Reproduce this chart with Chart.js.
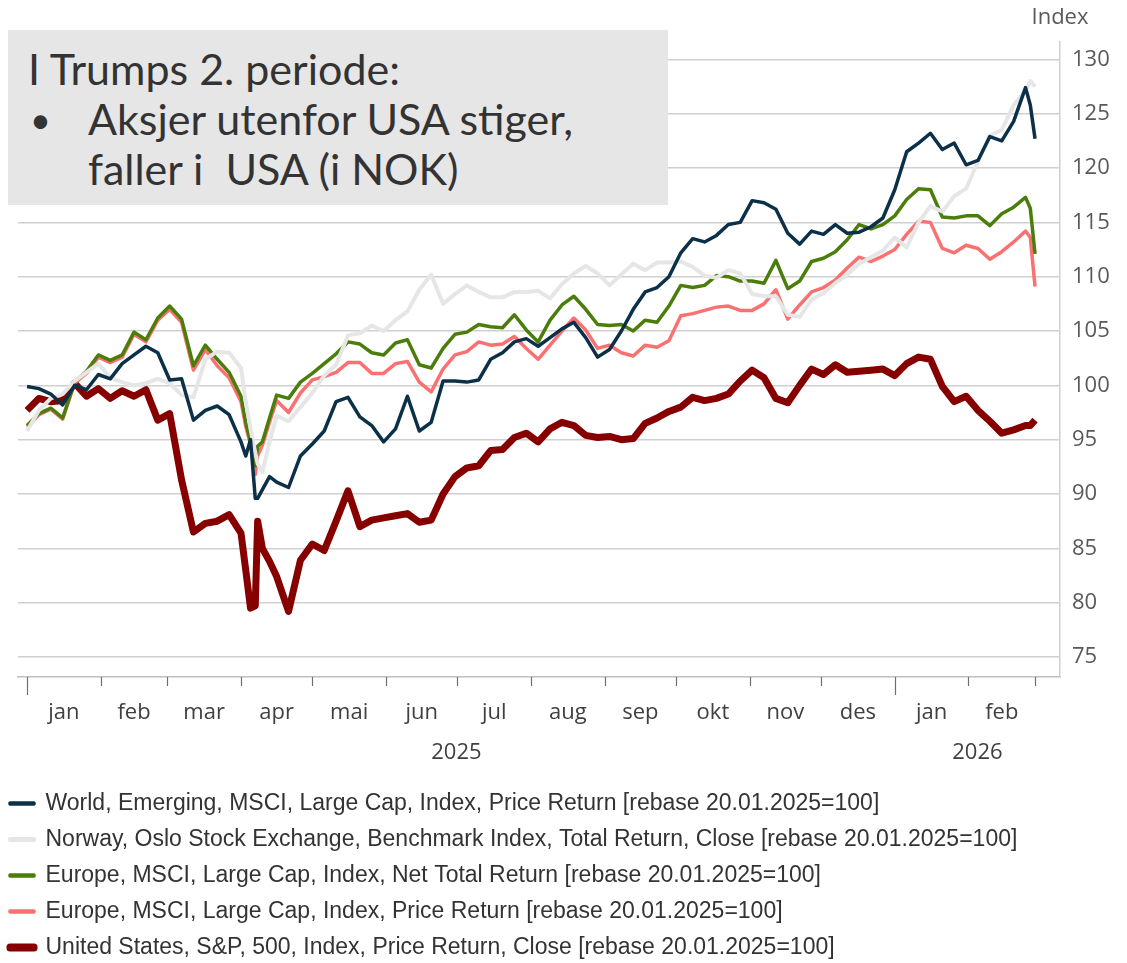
<!DOCTYPE html>
<html>
<head>
<meta charset="utf-8">
<script src="https://cdn.jsdelivr.net/npm/chart.js@4.4.1/dist/chart.umd.min.js"></script>
<style>
body{margin:0;background:#fff}
#wrap{position:relative;width:1127px;height:963px}
#box{position:absolute;left:8px;top:30px;width:660px;height:175px;background:#e6e6e6;font-family:Lato,'Open Sans',sans-serif;font-size:43px;color:#333;line-height:50px;padding-top:14px;box-sizing:border-box}
#box .l1{padding-left:20px}
#box .l2{padding-left:80px;position:relative}
#box .bul{position:absolute;left:22px;font-size:36px}
</style>
</head>
<body>
<div id="wrap">
<canvas id="myChart" width="1127" height="963"></canvas>
<div id="box">
<div class="l1">I Trumps 2. periode:</div>
<div class="l2"><span class="bul">•</span>Aksjer utenfor USA stiger,</div>
<div class="l2">faller i&nbsp; USA (i NOK)</div>
</div>
</div>
<script>
// days since 01.01.2025
const days=[0,5,10,15,20,25,30,35,40,45,50,55,60,65,70,
75,80,85,90,92,94,96,97,99,102,105,110,115,120,125,130,135,140,
145,150,155,160,165,170,175,180,185,190,195,200,205,210,215,
220,225,230,235,240,245,250,255,260,265,270,275,280,285,
290,295,300,305,310,315,320,325,330,335,340,345,350,355,
360,365,370,375,380,385,390,395,400,405,410,415,420,422,424]

const world=[99.9,99.7,99.2,98.2,100.0,99.6,101.0,100.6,102.0,102.8,103.6,103.0,100.5,100.6,96.8,
97.7,98.1,97.3,94.8,93.5,95.0,89.6,89.6,90.4,91.6,91.1,90.6,93.5,94.6,95.8,98.5,98.9,97.1,
96.3,94.8,96.0,99.0,95.8,96.6,100.4,100.4,100.3,100.5,102.4,103.0,104.0,104.3,103.6,
104.4,105.2,105.8,104.4,102.6,103.3,105.0,107.0,108.6,109.0,110.0,112.2,113.5,113.2,
113.8,114.8,115.0,117.0,116.8,116.2,114.0,113.0,114.2,113.9,114.8,114.0,114.1,114.6,
115.4,118.0,121.5,122.3,123.2,121.7,122.3,120.3,120.7,122.9,122.5,124.3,127.4,125.8,122.7]

const norway=[95.8,97.7,98.8,99.2,100.4,101.2,102.0,100.7,100.3,100.0,100.2,100.6,100.2,99.1,98.9,
102.4,103.1,103.0,101.6,98.5,96.0,93.8,92.8,92.0,94.8,97.2,96.7,98.0,99.3,100.9,101.9,104.6,104.8,
105.5,105.0,106.0,106.8,108.8,110.2,107.5,108.4,109.2,108.6,108.1,108.1,108.6,108.6,108.7,
108.0,109.3,110.3,111.0,110.3,109.2,110.2,111.2,110.6,111.3,111.3,111.4,110.9,110.1,
109.9,110.6,110.3,108.4,108.2,108.2,106.5,106.3,107.9,108.5,109.4,110.2,111.2,111.8,
112.4,113.6,112.7,115.0,116.5,116.0,117.4,118.1,120.6,123.0,123.5,125.8,127.1,128.0,127.5]

const europeNet=[96.3,97.4,97.9,97.0,100.3,101.3,102.8,102.3,102.8,104.9,104.2,106.2,107.3,106.1,101.8,
103.7,102.4,101.2,99.0,96.6,94.8,92.6,94.4,94.8,97.0,99.1,98.8,100.3,101.1,102.0,102.9,104.0,103.8,
103.0,102.8,103.9,104.2,101.9,101.6,103.4,104.7,104.9,105.6,105.4,105.3,106.5,105.1,104.0,
106.0,107.4,108.2,107.0,105.6,105.5,105.6,105.0,106.0,105.8,107.3,109.2,109.0,109.2,
110.1,110.0,109.6,109.6,109.4,111.5,108.9,109.6,111.4,111.7,112.3,113.4,114.8,114.4,
114.8,115.6,117.1,118.1,118.0,115.5,115.4,115.6,115.6,114.7,115.8,116.4,117.3,116.3,112.1]

const europePrice=[96.2,97.3,97.8,96.9,100.2,101.1,102.6,102.1,102.6,104.7,104.0,106.0,107.0,105.8,101.4,
103.3,101.8,100.7,98.5,96.2,94.6,91.8,93.5,94.5,96.6,98.6,97.5,99.3,100.5,100.8,101.2,102.1,102.1,
101.1,101.1,102.0,102.2,100.3,99.4,101.5,102.8,103.1,104.0,103.7,103.8,104.5,103.4,102.4,
103.7,105.0,106.2,105.1,103.4,103.7,103.0,102.7,103.7,103.5,104.1,106.4,106.6,106.9,
107.2,107.3,106.9,106.9,107.5,108.8,106.1,107.4,108.6,109.0,109.7,110.8,111.8,111.4,
111.9,112.5,113.9,115.1,115.0,112.6,112.2,112.9,112.6,111.6,112.3,113.2,114.2,113.6,109.1]

const sp500=[97.7,98.8,98.5,98.6,100.2,99.0,99.7,98.8,99.5,99.0,99.6,96.8,97.4,91.3,86.5,
87.3,87.5,88.1,86.4,83.0,79.5,79.7,87.5,85.0,83.8,82.4,79.2,83.9,85.4,84.8,87.5,90.3,87.0,
87.6,87.8,88.0,88.2,87.4,87.6,90.0,91.6,92.4,92.6,94.0,94.1,95.2,95.6,94.8,
96.0,96.6,96.3,95.4,95.2,95.3,95.0,95.1,96.5,97.0,97.6,98.0,98.9,98.6,
98.8,99.2,100.4,101.4,100.7,98.8,98.4,100.0,101.5,101.0,101.9,101.2,101.3,101.4,
101.5,100.9,102.0,102.6,102.4,99.9,98.5,99.0,97.7,96.7,95.6,95.9,96.3,96.3,96.8]

const seriesNames=['World, Emerging, MSCI, Large Cap, Index, Price Return [rebase 20.01.2025=100]',
'Norway, Oslo Stock Exchange, Benchmark Index, Total Return, Close [rebase 20.01.2025=100]',
'Europe, MSCI, Large Cap, Index, Net Total Return [rebase 20.01.2025=100]',
'Europe, MSCI, Large Cap, Index, Price Return [rebase 20.01.2025=100]',
'United States, S&P, 500, Index, Price Return, Close [rebase 20.01.2025=100]']

const monthStarts=[0,31,59,90,120,151,181,212,243,273,304,334,365,396,424]
const monthNames=['jan','feb','mar','apr','mai','jun','jul','aug','sep','okt','nov','des','jan','feb']
const yearNames=['2025','2026']
const yearStart=365

function pts(vals){
  return days.map((d,i)=>({x:d,y:vals[i]}))
}

function ds(label,vals,color,w){
  return {label:label,data:pts(vals),borderColor:color,backgroundColor:color,borderWidth:w,
    pointRadius:0,tension:0,fill:false,borderJoinStyle:'round'}
}

const axisDecor={
  id:'axisDecor',
  afterDraw(chart){
    const ctx=chart.ctx
    const xs=chart.scales.x
    const a=chart.chartArea
    ctx.save()
    ctx.strokeStyle='#6e6e6e'
    ctx.lineWidth=1.2
    monthStarts.forEach(d=>{
      const px=Math.round(xs.getPixelForValue(d))+0.5
      const len=(d===0||d===yearStart)?18:9
      ctx.beginPath()
      ctx.moveTo(px,a.bottom)
      ctx.lineTo(px,a.bottom+len)
      ctx.stroke()
    })
    ctx.fillStyle='#404040'
    ctx.font='22px "Open Sans"'
    ctx.textAlign='center'
    ctx.textBaseline='middle'
    monthNames.forEach((m,i)=>{
      const px=(xs.getPixelForValue(monthStarts[i])+xs.getPixelForValue(monthStarts[i+1]))/2
      ctx.fillText(m,px,a.bottom+36)
    })
    const yx=xs.getPixelForValue(yearStart)
    ctx.fillText(yearNames[0],(a.left+yx)/2,a.bottom+76)
    ctx.fillText(yearNames[1],(yx+a.right)/2,a.bottom+76)
    ctx.fillStyle='#595959'
    ctx.fillText('Index',a.right,a.top-24)
    ctx.restore()
  }
}

new Chart(document.getElementById('myChart'),{
  type:'line',
  data:{
    datasets:[
      ds(seriesNames[0],world,'#0b3048',3.5),
      ds(seriesNames[1],norway,'#e6e6e6',4),
      ds(seriesNames[2],europeNet,'#4b7d0b',3.5),
      ds(seriesNames[3],europePrice,'#fb7070',3.5),
      ds(seriesNames[4],sp500,'#870000',7)
    ]
  },
  options:{
    responsive:false,
    animation:false,
    layout:{padding:{left:-3,top:42,right:0,bottom:-6}},
    plugins:{
      tooltip:{enabled:false},
      legend:{
        position:'bottom',
        align:'start',
        labels:{
          font:{family:'Liberation Sans',size:23},
          color:'#333',
          boxWidth:24,
          boxHeight:1,
          padding:13
        }
      }
    },
    scales:{
      x:{
        type:'linear',
        min:-3.8,
        max:434.5,
        grid:{display:false},
        border:{display:true,color:'#bfbfbf',width:1.5},
        ticks:{display:false},
        afterFit(s){s.height=102}
      },
      y:{
        position:'right',
        min:73.16,
        max:131.6,
        grid:{color:'#d0d0d0',lineWidth:1.5,drawTicks:false},
        border:{display:true,color:'#d0d0d0',width:1.5},
        ticks:{stepSize:5,includeBounds:false,padding:12,color:'#595959',font:{family:'Open Sans',size:22}},
        afterFit(s){s.width=67}
      },
      yl:{
        position:'left',
        display:true,
        grid:{display:false},
        border:{display:false},
        ticks:{display:false},
        afterFit(s){s.width=21}
      }
    }
  },
  plugins:[axisDecor]
})
</script>
</body>
</html>
